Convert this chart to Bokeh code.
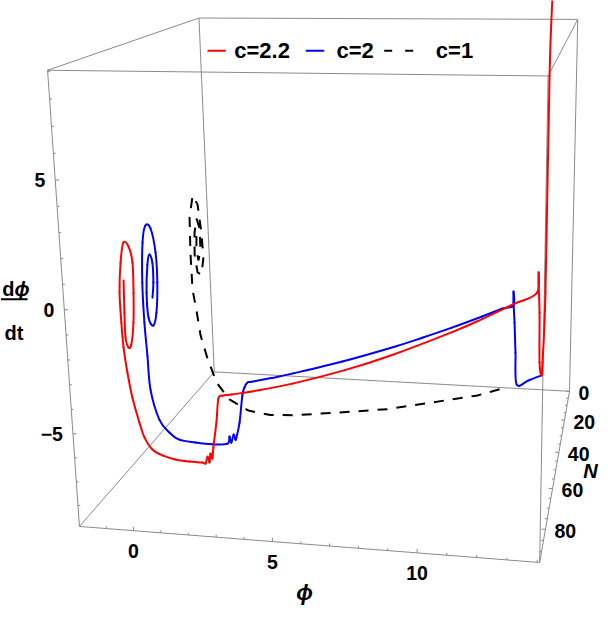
import numpy as np
from bokeh.plotting import figure
from bokeh.models import Range1d
from bokeh.embed import file_html
from bokeh.resources import INLINE
from bokeh.core.properties import value

# ---------------- data (phi, dphi/dt, N) ----------------
red_phi = [13.04, 12.98, 12.97, 12.90, 12.87, 12.78, 12.75, 12.69, 12.69, 12.62,
           11.77, 10.75, 9.81, 7.95, 6.54, 4.99, 3.77, 3.16, 2.87,
           2.73, 2.63, 2.49, 2.45, 2.39, 2.35, 2.29, 2.21, 2.10, 1.65, 1.16, 0.72, 0.38, 0.14, 0.00,
           -0.18, -0.28, -0.34, -0.34, -0.32, -0.20, -0.04, 0.15, 0.27, 0.26, 0.21, 0.10, 0.00,
           -0.08, -0.06, -0.01]
red_dphi = [10.03, 6.48, -3.93, -7.45, -8.10, -7.42, -4.87, -3.35, -2.85, -3.87,
            -3.88, -3.88, -3.88, -3.88, -3.88, -3.88, -3.88, -3.88, -3.88,
            -3.99, -4.98, -6.02, -6.47, -6.26, -6.63, -6.38, -6.67, -6.63, -6.59, -6.51, -6.33,
            -6.07, -5.56, -4.91, -3.86, -2.81, -1.77, -0.74, 0.48, 1.68, 2.48, 2.34, 1.74, 0.57,
            -0.60, -1.47, -1.59, -1.19, -0.19, 1.08]
red_N = [0, 0, 0.3, 0.6, 0.9, 1.2, 1.6, 2.0, 2.2, 2.5,
         12.6, 25.2, 35.8, 53.8, 65.0, 74.8, 80.6, 82.9, 83.9,
         84.2, 84.4, 84.6, 84.8, 84.9, 85.0, 85.1, 85.2, 85.3, 85.7, 86.1, 86.6, 87.0, 87.4,
         87.7, 88.1, 88.5, 88.9, 89.3, 89.6, 89.9, 90.2, 90.4, 90.6, 90.8, 91.0, 91.2, 91.3,
         91.4, 91.5, 91.7]

blue_phi = [12.86, 12.33, 11.86, 11.80, 11.75, 11.70, 11.70, 11.71,
            11.30, 10.58, 9.55, 8.57, 7.65, 6.03, 4.50, 3.83, 3.22, 3.09,
            2.98, 2.90, 2.77, 2.64, 2.61, 2.55, 2.46, 2.40, 2.32, 1.77, 1.15, 0.57, 0.23, -0.10,
            -0.34, -0.36, -0.38, -0.35, -0.24, -0.09, 0.11, 0.26, 0.28, 0.20, 0.07, -0.08, -0.09,
            0.01, 0.11, 0.21, 0.22, 0.17]
blue_dphi = [-8.16, -8.28, -8.34, -6.70, -5.18, -4.17, -3.62, -4.29,
             -4.29, -4.29, -4.29, -4.29, -4.29, -4.29, -4.29, -4.29, -4.29, -4.29,
             -4.49, -4.83, -5.99, -6.64, -6.72, -6.50, -6.85, -6.58, -6.89, -6.92, -6.84, -6.71,
             -6.38, -5.80, -4.47, -2.99, -1.57, 0.13, 1.79, 2.49, 2.39, 1.43, 0.22, -1.02, -1.55,
             -1.21, -0.17, 0.99, 1.41, 1.10, 0.29, -0.32]
blue_N = [0, 2.5, 5.0, 5.3, 5.6, 5.9, 6.1, 6.4,
          9.3, 16.5, 26.2, 34.7, 42.2, 53.7, 62.9, 66.5, 69.4, 70.0,
          70.3, 70.5, 70.8, 71.1, 71.2, 71.3, 71.4, 71.5, 71.6, 72.1, 72.7, 73.3, 73.8, 74.3,
          74.9, 75.3, 75.7, 76.1, 76.4, 76.6, 76.8, 77.0, 77.2, 77.4, 77.6, 77.8, 78.0, 78.2,
          78.3, 78.4, 78.6, 78.8]

black_phi = [11.04, 10.15, 8.26, 6.48, 4.54, 2.96, 1.97, 1.12, 0.39, -0.09, -0.41, -0.64,
             -0.75, -0.86, -0.86, -0.81, -0.63, -0.43, -0.31, -0.26, -0.36, -0.51, -0.59,
             -0.54, -0.42, -0.30, -0.29, -0.38, -0.44, -0.40, -0.31]
black_dphi = [-8.99, -9.09, -9.22, -9.32, -9.18, -8.98, -8.82, -8.51, -7.90, -7.04, -5.85,
              -4.73, -3.52, -2.51, -0.75, 0.89, 1.91, 1.52, 0.24, -0.90, -1.69, -1.59, -0.75,
              0.28, 0.94, 0.50, -0.41, -0.96, -0.49, 0.16, 0.09]
black_N = [0, 4, 9, 14, 20, 26, 29, 31, 32.5, 33.3, 33.8, 34.2, 34.5, 34.8, 35.1, 35.4,
           35.6, 35.8, 36.0, 36.2, 36.4, 36.6, 36.8, 37.0, 37.2, 37.4, 37.6, 37.8, 38.0,
           38.2, 38.4]

series_names = ["c=2.2", "c=2", "c=1"]

# axes (plot range and ticks)
phi_range = (-2.0, 14.08)
dphi_range = (-8.9, 9.05)
N_range = (0.0, 94.5)
phi_major = [0, 5, 10]
phi_major_labels = ["0", "5", "10"]
phi_minor = [-1, 1, 2, 3, 4, 6, 7, 8, 9, 11, 12, 13, 14]
dphi_major = [-5, 0, 5]
dphi_major_labels = ["\u22125", "0", "5"]
dphi_minor = [-8, -7, -6, -4, -3, -2, -1, 1, 2, 3, 4, 6, 7, 8, 9]
N_major = [0, 20, 40, 60, 80]
N_major_labels = ["0", "20", "40", "60", "80"]
N_minor = [5, 10, 15, 25, 30, 35, 45, 50, 55, 65, 70, 75, 85, 90]

# ---------------- camera: where the 8 box corners fall on the page (px) ----------------
box3d = [(phi_range[0], dphi_range[1], N_range[1]), (phi_range[1], dphi_range[1], N_range[1]),
         (phi_range[0], dphi_range[0], N_range[1]), (phi_range[1], dphi_range[0], N_range[1]),
         (phi_range[0], dphi_range[1], N_range[0]), (phi_range[1], dphi_range[1], N_range[0]),
         (phi_range[0], dphi_range[0], N_range[0]), (phi_range[1], dphi_range[0], N_range[0])]
box_px = [(55.5, 77.7), (555.5, 83.3), (86.8, 533.5), (547.0, 570.7),
          (206.0, 25.3), (585.5, 27.3), (222.0, 380.0), (577.0, 398.0)]
A = []; b = []
for (X, Y, Z), (u, v) in zip(box3d, box_px):
    A.append([X, Y, Z, 1, 0, 0, 0, 0, -u*X, -u*Y, -u*Z]); b.append(u)
    A.append([0, 0, 0, 0, X, Y, Z, 1, -v*X, -v*Y, -v*Z]); b.append(v)
cam = np.append(np.linalg.lstsq(np.array(A), np.array(b), rcond=None)[0], 1.0).reshape(3, 4)


def project(phi, dphi, N):
    pts = np.vstack([np.asarray(phi, float), np.asarray(dphi, float),
                     np.asarray(N, float), np.ones(len(phi))])
    h = cam @ pts
    return list(h[0] / h[2]), list(h[1] / h[2])


# ---------------- figure (page px coordinates, y downwards) ----------------
p = figure(width=600, height=624, output_backend="svg", toolbar_location=None,
           x_range=Range1d(8, 608), y_range=Range1d(632, 8),
           x_axis_location=None, y_axis_location=None, min_border=0)
p.grid.visible = False
p.outline_line_color = None
p.background_fill_color = "white"
p.border_fill_color = "white"

EDGE = "#8a8a8a"
FONT = "Liberation Sans"

# box edges
edges = [(0, 1), (2, 3), (0, 2), (1, 3), (4, 5), (6, 7), (4, 6), (5, 7), (0, 4), (1, 5), (2, 6), (3, 7)]
ex, ey = [], []
for i, j in edges:
    xs, ys = project([box3d[i][0], box3d[j][0]], [box3d[i][1], box3d[j][1]], [box3d[i][2], box3d[j][2]])
    ex.append(xs); ey.append(ys)
p.multi_line(ex, ey, line_color=EDGE, line_width=1)

# ticks
tx, ty = [], []
dph = dphi_range[1] - dphi_range[0]
pr = phi_range[1] - phi_range[0]
for vals, L in ((phi_major, 0.0090), (phi_minor, 0.0055)):
    for t in vals:
        xs, ys = project([t, t], [dphi_range[0], dphi_range[0] + L*dph], [N_range[1], N_range[1]])
        tx.append(xs); ty.append(ys)
for vals, L in ((dphi_major, 0.0085), (dphi_minor, 0.0052)):
    for t in vals:
        xs, ys = project([phi_range[0], phi_range[0] + L*pr], [t, t], [N_range[1], N_range[1]])
        tx.append(xs); ty.append(ys)
for vals, L in ((N_major, 0.0085), (N_minor, 0.0052)):
    for t in vals:
        xs, ys = project([phi_range[1], phi_range[1] - L*pr], [dphi_range[0], dphi_range[0]], [t, t])
        tx.append(xs); ty.append(ys)
p.multi_line(tx, ty, line_color=EDGE, line_width=1)

# tick labels
lx, ly = project(phi_major, [dphi_range[0]]*3, [N_range[1]]*3)
p.text(x=lx, y=[y + 20.5 for y in ly], text=phi_major_labels, text_align="center",
       text_baseline="middle", text_font=value(FONT), text_font_style="bold",
       text_font_size="19.5px", text_color="black")
lx, ly = project([phi_range[0]]*3, dphi_major, [N_range[1]]*3)
p.text(x=[x - 10 for x in lx], y=ly, text=dphi_major_labels, text_align="right",
       text_baseline="middle", text_font=value(FONT), text_font_style="bold",
       text_font_size="19.5px", text_color="black")
lx, ly = project([phi_range[1]]*5, [dphi_range[0]]*5, N_major)
p.text(x=[x + 9 for x in lx], y=[y + 1.5 for y in ly], text=N_major_labels, text_align="left",
       text_baseline="middle", text_font=value(FONT), text_font_style="bold",
       text_font_size="19.5px", text_color="black")

# axis labels
p.text(x=[312], y=[600], text=["\u03d5"], text_align="center", text_baseline="middle",
       text_font=value(FONT), text_font_style="bold italic", text_font_size="22px")
p.text(x=[598], y=[478], text=["N"], text_align="center", text_baseline="middle",
       text_font=value(FONT), text_font_style="bold italic", text_font_size="20px")
p.text(x=[22], y=[296], text=["d"], text_align="right", text_baseline="alphabetic",
       text_font=value(FONT), text_font_style="bold", text_font_size="20px")
p.text(x=[22], y=[296], text=["\u03d5"], text_align="left", text_baseline="alphabetic",
       text_font=value(FONT), text_font_style="bold italic", text_font_size="20px")
p.line([8.5, 35], [306.7, 306.7], line_color="black", line_width=2)
p.text(x=[21.5], y=[340], text=["dt"], text_align="center", text_baseline="alphabetic",
       text_font=value(FONT), text_font_style="bold", text_font_size="20px")


def smooth_curve(xs, ys, color):
    # Catmull-Rom path through the projected data points, drawn with Bokeh bezier glyphs
    n = len(xs)
    d = dict(x0=[], y0=[], x1=[], y1=[], cx0=[], cy0=[], cx1=[], cy1=[])
    for i in range(n - 1):
        a = max(i - 1, 0); c = min(i + 2, n - 1)
        d["x0"].append(xs[i]); d["y0"].append(ys[i])
        d["x1"].append(xs[i + 1]); d["y1"].append(ys[i + 1])
        d["cx0"].append(xs[i] + (xs[i + 1] - xs[a]) / 6.0)
        d["cy0"].append(ys[i] + (ys[i + 1] - ys[a]) / 6.0)
        d["cx1"].append(xs[i + 1] - (xs[c] - xs[i]) / 6.0)
        d["cy1"].append(ys[i + 1] - (ys[c] - ys[i]) / 6.0)
    p.bezier(line_color=color, line_width=2, line_cap="round", **d)


# curves
kx, ky = project(black_phi, black_dphi, black_N)
p.line(kx, ky, line_color="black", line_width=2, line_dash="10 9")
bx, by = project(blue_phi, blue_dphi, blue_N)
smooth_curve(bx, by, "#0000ff")
rx, ry = project(red_phi, red_dphi, red_N)
smooth_curve(rx, ry, "#ff0000")

# legend (screen space)
p.line([215, 233.3], [58.3, 58.3], line_color="#ff0000", line_width=2)
p.line([313.3, 331.7], [58.3, 58.3], line_color="#0000ff", line_width=2)
p.line([391.7, 420.7], [58.3, 58.3], line_color="black", line_width=2, line_dash="8 13")
p.text(x=[241.7, 344.0, 443.3], y=[58, 58, 58], text=series_names, text_align="left",
       text_baseline="middle", text_font=value(FONT), text_font_style="bold",
       text_font_size="22px", text_color="black")

open("out.html", "w").write(file_html(p, INLINE))
